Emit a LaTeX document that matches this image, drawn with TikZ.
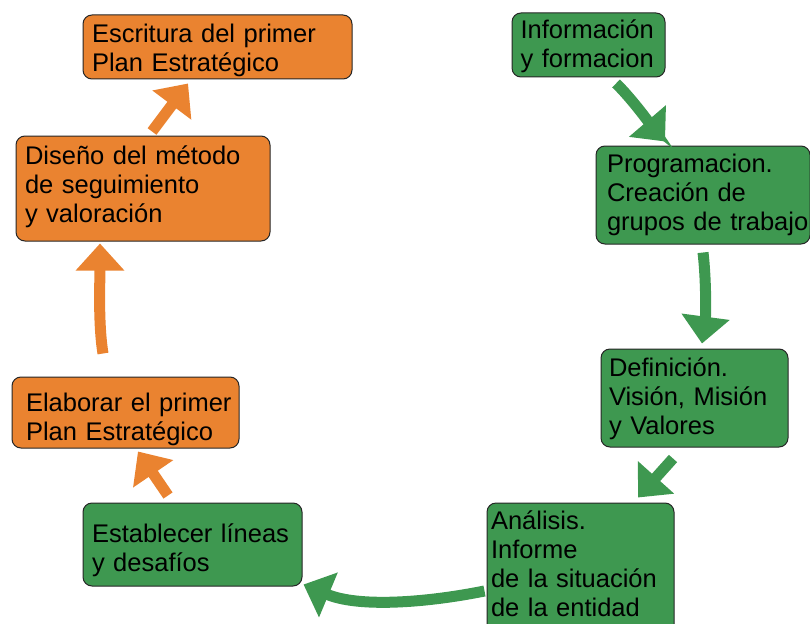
\documentclass[tikz,border=0pt]{standalone}
\usepackage{fontspec}
\setmainfont{Liberation Sans}
\usetikzlibrary{arrows.meta}
\definecolor{orng}{RGB}{234,131,48}
\definecolor{grn}{RGB}{62,152,80}
\begin{document}
\begin{tikzpicture}[x=1pt,y=-1pt,
  stepbox/.style={draw=black!85, line width=1pt, rounded corners=9pt, align=left, inner ysep=0pt, font=\fontsize{25.5}{29}\selectfont},
  obox/.style={stepbox, fill=orng},
  gbox/.style={stepbox, fill=grn},
  tfix/.style 2 args={execute at begin node={\rule{0pt}{#1}}, execute at end node={\rule[-#2]{0pt}{#2}}},
  arr/.style={line width=11pt, -{Triangle[length=27pt,width=47pt]}},
  oarr/.style={arr, draw=orng},
  garr/.style={arr, draw=grn}]
\useasboundingbox (0,0) rectangle (810,623);

\node[obox, tfix={27pt}{6pt}, minimum width=269pt, minimum height=64pt, text width=251pt, inner xsep=9pt] (esc) at (217.5,47) {Escritura del primer\\Plan Estratégico};
\node[gbox, tfix={23pt}{6pt}, minimum width=153pt, minimum height=64pt, text width=136pt, inner xsep=8.5pt] (info) at (588.5,45) {\mbox{Información}\\\mbox{y formacion}};
\node[gbox, tfix={19pt}{7pt}, minimum width=214pt, minimum height=98pt, text width=192pt, inner xsep=11pt] (prog) at (703,195) {Programacion.\\Creación de\\\mbox{grupos de trabajo}};
\node[obox, tfix={20pt}{11pt}, minimum width=254pt, minimum height=105pt, text width=236pt, inner xsep=9pt] (dis) at (143,188.5) {Diseño del método\\de seguimiento\\y valoración};
\node[gbox, tfix={20pt}{6pt}, minimum width=187pt, minimum height=98pt, text width=171pt, inner xsep=8pt] (def) at (694.5,398) {Definición.\\Visión, Misión\\y Valores};
\node[obox, tfix={32pt}{6pt}, minimum width=227pt, minimum height=71pt, text width=199pt, inner xsep=14pt] (ela) at (125.5,412.5) {\mbox{Elaborar el primer}\\Plan Estratégico};
\node[gbox, tfix={30pt}{6pt}, minimum width=219pt, minimum height=83pt, text width=201pt, inner xsep=9pt] (est) at (192.5,544.5) {\mbox{Establecer líneas}\\y desafíos};
\node[gbox, tfix={25pt}{16pt}, minimum width=187pt, minimum height=130pt, text width=179pt, inner xsep=4pt] (ana) at (580.5,568) {Análisis.\\Informe\\de la situación\\de la entidad};

\draw[garr] ([shift={(27.5,6)}]info.south) .. controls +(14,13) and +(-12,-14) .. ([shift={(-38,-4)}]prog.north);
\draw[garr] ([shift={(0,8)}]prog.south) .. controls +(3,25) and +(4,-30) .. ([shift={(7.5,-5)}]def.north);
\draw[garr] ([shift={(-21.5,11)}]def.south) -- ([shift={(57.5,-5)}]ana.north);
\draw[garr] ([shift={(-2,23)}]ana.west) .. controls +(-60,12) and +(55,23) .. ([shift={(1,-2)}]est.south east);
\draw[oarr] ([shift={(-24.5,-7)}]est.north) -- ([shift={(12.5,3)}]ela.south);
\draw[oarr] ([shift={(-22.5,-23)}]ela.north) .. controls +(-5,-30) and +(0,35) .. ([shift={(-43,2)}]dis.south);
\draw[oarr] ([shift={(9,-4)}]dis.north) -- ([shift={(-29.5,4)}]esc.south);
\end{tikzpicture}
\end{document}
